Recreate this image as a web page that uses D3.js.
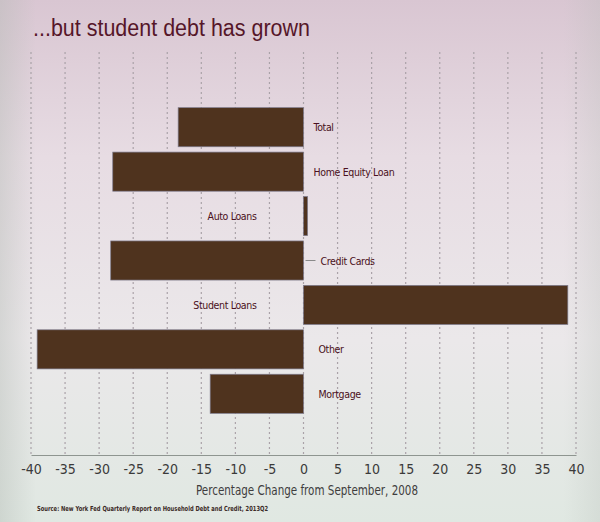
<!DOCTYPE html>
<html>
<head>
<meta charset="utf-8">
<script src="https://cdn.jsdelivr.net/npm/d3@7"></script>
<style>
  html, body { margin: 0; padding: 0; background: #e6e0e4; }
  svg { display: block; }
</style>
</head>
<body>
<svg id="chart" width="600" height="522"></svg>
<script>
// Percentage change in household debt balances since September 2008
const categories = ["Total", "Home Equity Loan", "Auto Loans", "Credit Cards", "Student Loans", "Other", "Mortgage"];
const changes = [-18.4, -28.0, 0.6, -28.3, 38.8, -39.1, -13.7];
const xTicks = [-40, -35, -30, -25, -20, -15, -10, -5, 0, 5, 10, 15, 20, 25, 30, 35, 40];

const titleText = "...but student debt has grown";
const axisTitle = "Percentage Change from September, 2008";
const sourceText = "Source: New York Fed Quarterly Report on Household Debt and Credit, 2013Q2";

const W = 600, H = 522;
const narrow = "'Liberation Sans Narrow', 'Arial Narrow', 'DejaVu Sans Condensed', sans-serif";
const maroon = "#4a1020";
const barFill = "#4f331e";

const svg = d3.select("#chart");

// slide background: pinkish at the top fading to a pale green-grey at the bottom
const defs = svg.append("defs");
const bg = defs.append("linearGradient").attr("id", "bg").attr("x1", 0).attr("y1", 0).attr("x2", 0).attr("y2", 1);
bg.append("stop").attr("offset", "0%").attr("stop-color", "#d9c6d2");
bg.append("stop").attr("offset", "30%").attr("stop-color", "#e7dce3");
bg.append("stop").attr("offset", "65%").attr("stop-color", "#ebe8ea");
bg.append("stop").attr("offset", "100%").attr("stop-color", "#e0e8e2");
const side = defs.append("linearGradient").attr("id", "side").attr("x1", 0).attr("y1", 0).attr("x2", 1).attr("y2", 0);
side.append("stop").attr("offset", "0%").attr("stop-color", "#b3bab4").attr("stop-opacity", 0.4);
side.append("stop").attr("offset", "6%").attr("stop-color", "#b3bab4").attr("stop-opacity", 0);
side.append("stop").attr("offset", "94%").attr("stop-color", "#b3bab4").attr("stop-opacity", 0);
side.append("stop").attr("offset", "100%").attr("stop-color", "#b3bab4").attr("stop-opacity", 0.25);
svg.append("rect").attr("width", W).attr("height", H).attr("fill", "url(#bg)");
svg.append("rect").attr("width", W).attr("height", H).attr("fill", "url(#side)");

const x = d3.scaleLinear().domain([-40, 40]).range([31, 576]);
const y = d3.scaleBand().domain(categories).range([105, 416]).paddingInner(0.12).paddingOuter(0.06);

const plotTop = 52, plotBottom = 455;

// title
svg.append("text")
  .attr("x", 33).attr("y", 36)
  .attr("font-family", "'Liberation Sans', Arial, sans-serif")
  .attr("font-size", 23)
  .attr("fill", "#561629")
  .attr("textLength", 277).attr("lengthAdjust", "spacingAndGlyphs")
  .text(titleText);

// dotted vertical gridlines
svg.append("g").selectAll("line").data(xTicks).join("line")
  .attr("x1", d => x(d)).attr("x2", d => x(d))
  .attr("y1", plotTop).attr("y2", plotBottom)
  .attr("stroke", "#aaa2a8").attr("stroke-width", 1.2)
  .attr("stroke-dasharray", "2,3");

// bars
svg.append("g").selectAll("rect").data(categories).join("rect")
  .attr("x", (d, i) => x(Math.min(0, changes[i])))
  .attr("width", (d, i) => Math.abs(x(changes[i]) - x(0)))
  .attr("y", d => y(d))
  .attr("height", y.bandwidth())
  .attr("fill", barFill)
  .attr("stroke", "#7d7a8c").attr("stroke-width", 0.7);

// bottom axis
const axis = d3.axisBottom(x).tickValues(xTicks).tickSize(0).tickPadding(9).tickFormat(d => String(d));
const ax = svg.append("g").attr("transform", `translate(0,${plotBottom})`).call(axis);
ax.select(".domain").attr("stroke", "#8e9590").attr("stroke-width", 1.2);
ax.selectAll("text")
  .attr("font-family", narrow).attr("font-size", 14)
  .attr("fill", "#3b3a3a");

svg.append("text")
  .attr("x", 307).attr("y", 495)
  .attr("text-anchor", "middle")
  .attr("font-family", narrow).attr("font-size", 14)
  .attr("fill", "#3f3d3e")
  .attr("textLength", 222).attr("lengthAdjust", "spacingAndGlyphs")
  .text(axisTitle);

svg.append("text")
  .attr("x", 37).attr("y", 511)
  .attr("font-family", narrow).attr("font-size", 7).attr("font-weight", "bold")
  .attr("fill", "#3a2a26")
  .attr("textLength", 231).attr("lengthAdjust", "spacingAndGlyphs")
  .text(sourceText);

// category labels: to the right of zero for declines, to the left for increases
const labels = svg.append("g");
categories.forEach((c, i) => {
  const cy = y(c) + y.bandwidth() / 2 + 4;
  const neg = changes[i] < 0;
  const leader = c === "Credit Cards";
  let lx;
  if (!neg) lx = x(0) - 47;
  else if (leader) lx = x(0) + 17;
  else if (i >= 5) lx = x(0) + 15;
  else lx = x(0) + 10;
  if (leader) {
    labels.append("line")
      .attr("x1", x(0) + 2).attr("x2", x(0) + 12)
      .attr("y1", cy - 4).attr("y2", cy - 4)
      .attr("stroke", "#8a8a8a").attr("stroke-width", 1);
  }
  labels.append("text")
    .attr("x", lx).attr("y", cy)
    .attr("text-anchor", neg ? "start" : "end")
    .attr("font-family", narrow).attr("font-size", 10.5)
    .attr("letter-spacing", -0.35)
    .attr("font-weight", 500)
    .attr("fill", maroon)
    .text(c);
});
</script>
</body>
</html>
